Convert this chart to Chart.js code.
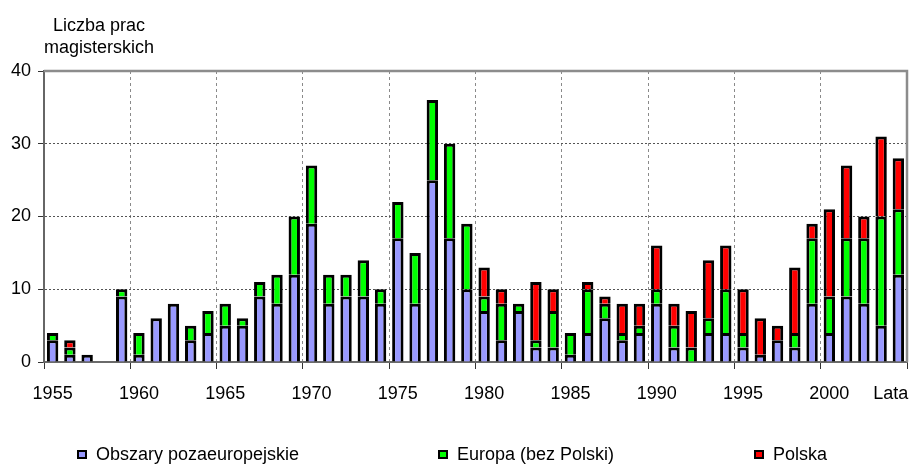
<!DOCTYPE html>
<html>
<head>
<meta charset="utf-8">
<script src="https://cdn.jsdelivr.net/npm/chart.js@4.4.1/dist/chart.umd.min.js"></script>
<style>
  html, body { margin: 0; padding: 0; background: #fff; }
  #wrap { position: relative; width: 911px; height: 466px; font-family: "Liberation Sans", Arial, sans-serif; color: #000; }
  #chart { position: absolute; left: 0; top: 0; }
  #title { position: absolute; left: 0; top: 14px; width: 198px; text-align: center; font-size: 18px; line-height: 22px; }
  #legend { position: absolute; left: 0; top: 444px; width: 911px; height: 20px; }
  .li { position: absolute; top: 0; height: 20px; display: flex; align-items: center; font-size: 18px; line-height: 20px; white-space: nowrap; }
  .sw { width: 6px; height: 5px; border: 2px solid #000; margin-right: 9px; }
</style>
</head>
<body>
<div id="wrap">
  <canvas id="chart" width="911" height="466"></canvas>
  <div id="title">Liczba prac<br>magisterskich</div>
  <div id="legend"></div>
</div>
<script>
// ---- data ----
const years = [1955,1956,1957,1958,1959,1960,1961,1962,1963,1964,
               1965,1966,1967,1968,1969,1970,1971,1972,1973,1974,
               1975,1976,1977,1978,1979,1980,1981,1982,1983,1984,
               1985,1986,1987,1988,1989,1990,1991,1992,1993,1994,
               1995,1996,1997,1998,1999,2000,2001,2002,2003,2004];
const tickYears = [1955,1960,1965,1970,1975,1980,1985,1990,1995,2000];
const endTickLabel = 'Lata';
const seriesNames = ['Obszary pozaeuropejskie', 'Europa (bez Polski)', 'Polska'];
const obszaryPozaeuropejskie = [3,1,1,0,9,1,6,8,3,4,
                                5,5,9,8,12,19,8,9,9,8,
                                17,8,25,17,10,7,3,7,2,2,
                                1,4,6,3,4,8,2,0,4,4,
                                2,1,3,2,8,4,9,8,5,12];
const europaBezPolski =        [1,1,0,0,1,3,0,0,2,3,
                                3,1,2,4,8,8,4,3,5,2,
                                5,7,11,13,9,2,5,1,1,5,
                                3,6,2,1,1,2,3,2,2,6,
                                2,0,0,2,9,5,8,9,15,9];
const polska =                 [0,1,0,0,0,0,0,0,0,0,
                                0,0,0,0,0,0,0,0,0,0,
                                0,0,0,0,0,4,2,0,8,3,
                                0,1,1,4,3,6,3,5,8,6,
                                6,5,2,9,2,12,10,3,11,7];
const yTicks = [0, 10, 20, 30, 40];

// ---- styles ----
const seriesColors = ['#9999FF', '#00FF00', '#FF0000'];
const FONT = '"Liberation Sans", Arial, sans-serif';
const CLEAR = 'rgba(0,0,0,0)';

const frame = {
  id: 'frame',
  afterDraw(chart) {
    const { ctx, chartArea: a } = chart;
    ctx.save();
    ctx.strokeStyle = '#8c8c8c';
    ctx.lineWidth = 2.5;
    ctx.beginPath();
    ctx.moveTo(a.left, a.top);
    ctx.lineTo(a.right, a.top);
    ctx.lineTo(a.right, a.bottom);
    ctx.stroke();
    ctx.restore();
  }
};

const seriesData = [obszaryPozaeuropejskie, europaBezPolski, polska];
const chart = new Chart(document.getElementById('chart'), {
  type: 'bar',
  data: {
    labels: years.map(String),
    datasets: seriesNames.map((name, i) => ({
      label: name,
      data: seriesData[i],
      backgroundColor: seriesColors[i],
      borderColor: '#000',
      borderWidth: 3,
      inflateAmount: 0,
      categoryPercentage: 1,
      barPercentage: 0.66
    }))
  },
  options: {
    responsive: false,
    animation: false,
    devicePixelRatio: 1,
    layout: { padding: { top: 71, right: 4, left: 0, bottom: 0 } },
    plugins: { legend: { display: false }, tooltip: { enabled: false }, title: { display: false } },
    scales: {
      x: {
        stacked: true,
        offset: true,
        grid: {
          offset: true,
          drawOnChartArea: true,
          color: c => (c.index !== undefined && c.index % 5 === 0 && c.index > 0) ? '#8a8a8a' : CLEAR,
          lineWidth: 1,
          tickLength: 7,
          tickWidth: 1,
          tickColor: c => (c.index === undefined || c.index % 5 === 0) ? '#333' : CLEAR
        },
        border: { display: true, color: '#6a6a6a', width: 2, dash: [3, 3] },
        ticks: {
          autoSkip: false, maxRotation: 0, minRotation: 0, padding: 14, color: '#000',
          font: { family: FONT, size: 18 },
          callback: (v, i) => {
            if (i === years.length - 1) return endTickLabel + '\u00a0\u00a0\u00a0';
            return tickYears.includes(years[i]) ? String(years[i]) : '';
          }
        },
        afterFit: s => { s.height = 104; s.paddingLeft = 0; s.paddingRight = 0; }
      },
      y: {
        stacked: true,
        min: yTicks[0], max: yTicks[yTicks.length - 1],
        afterBuildTicks: s => { s.ticks = yTicks.map(v => ({ value: v })); },
        grid: {
          color: c => (c.tick && c.tick.value > yTicks[0] && c.tick.value < yTicks[yTicks.length - 1]) ? '#555' : CLEAR,
          lineWidth: 1,
          tickLength: 6,
          tickWidth: 1,
          tickColor: '#333'
        },
        border: { display: true, color: '#666', width: 2, dash: [2, 2] },
        ticks: { padding: 7, color: '#000', font: { family: FONT, size: 18 } },
        afterFit: s => { s.width = 44; s.paddingTop = 0; s.paddingBottom = 0; }
      }
    }
  },
  plugins: [frame]
});

// HTML legend built from datasets
const legendLefts = [77, 438, 754];
const legend = document.getElementById('legend');
chart.data.datasets.forEach((ds, i) => {
  const item = document.createElement('div');
  item.className = 'li';
  item.style.left = legendLefts[i] + 'px';
  const sw = document.createElement('span');
  sw.className = 'sw';
  sw.style.background = ds.backgroundColor;
  const tx = document.createElement('span');
  tx.textContent = ds.label;
  item.appendChild(sw);
  item.appendChild(tx);
  legend.appendChild(item);
});
</script>
</body>
</html>
